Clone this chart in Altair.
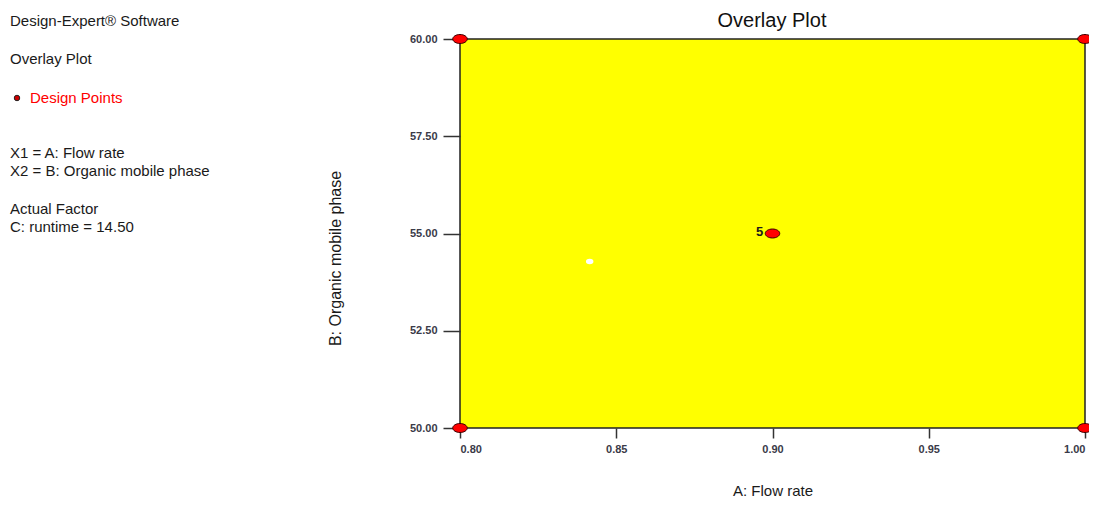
import altair as alt
import pandas as pd

# Design points (A: Flow rate, B: Organic mobile phase)
flow_rate = [0.80, 0.80, 1.00, 1.00, 0.90]
organic = [50.0, 60.0, 50.0, 60.0, 55.0]
point_labels = ["", "", "", "", "5"]

# small white artefact in the overlay region
speck_x = [0.8415]
speck_y = [54.28]

x_ticks = [0.80, 0.85, 0.90, 0.95, 1.00]
y_ticks = [50.00, 52.50, 55.00, 57.50, 60.00]

chart_title = "Overlay Plot"

info_lines = [
    "Design-Expert® Software",
    "Overlay Plot",
    "Design Points",
    "X1 = A: Flow rate",
    "X2 = B: Organic mobile phase",
    "Actual Factor",
    "C: runtime = 14.50",
]
info_y = [-18, 20, 59, 114, 132, 170, 188]

FONT = "Liberation Sans"

pts = pd.DataFrame({"A": flow_rate, "B": organic, "lab": point_labels})
speck = pd.DataFrame({"A": speck_x, "B": speck_y})

xs = alt.Scale(domain=[0.8, 1.0], nice=False, zero=False)
ys = alt.Scale(domain=[50, 60], nice=False, zero=False)

x_enc = alt.X("A:Q", scale=xs, title="A: Flow rate",
              axis=alt.Axis(values=x_ticks, format=".2f", tickSize=10, labelPadding=5,
                            titlePadding=29, titleFontSize=15, grid=False))
y_enc = alt.Y("B:Q", scale=ys, title="B: Organic mobile phase",
              axis=alt.Axis(values=y_ticks, format=".2f", tickSize=17, labelPadding=6,
                            grid=False, titleAngle=-90, titleX=-125, titleY=219,
                            titleFontSize=16, titleAlign="center", titleBaseline="middle"))

ellipse = "M -1 0 A 1 0.62 0 1 0 1 0 A 1 0.62 0 1 0 -1 0 Z"

points = alt.Chart(pts).mark_point(
    shape=ellipse, filled=True, fill="#ff0000", stroke="#3a0000", strokeWidth=1,
    size=210, opacity=1
).encode(x=x_enc, y=y_enc)

labels = alt.Chart(pts).mark_text(
    font=FONT, fontSize=13, fontWeight="bold", color="#1a1a1a", dx=-13, dy=-2,
    align="center", baseline="middle"
).encode(x=alt.X("A:Q", scale=xs), y=alt.Y("B:Q", scale=ys), text="lab:N")

speck_layer = alt.Chart(speck).mark_point(
    shape=ellipse, filled=True, fill="white", stroke="white", size=30, opacity=1
).encode(x=alt.X("A:Q", scale=xs), y=alt.Y("B:Q", scale=ys))

title_layer = alt.Chart(pd.DataFrame({"t": [chart_title]})).mark_text(
    font=FONT, fontSize=20, align="center", baseline="middle", color="#111111"
).encode(x=alt.value(312), y=alt.value(-18), text="t:N")

layers = [points, labels, speck_layer, title_layer]

for line, yy in zip(info_lines, info_y):
    is_dp = line == "Design Points"
    layers.append(
        alt.Chart(pd.DataFrame({"t": [line]})).mark_text(
            font=FONT, fontSize=15, align="left", baseline="middle",
            color="#ff0000" if is_dp else "#1a1a1a"
        ).encode(x=alt.value(-430 if is_dp else -450), y=alt.value(yy), text="t:N")
    )

# legend dot for Design Points
layers.append(
    alt.Chart(pd.DataFrame({"t": ["dot"]})).mark_point(
        shape="circle", filled=True, fill="#cc0000", stroke="#222222", strokeWidth=1,
        size=30, opacity=1
    ).encode(x=alt.value(-443), y=alt.value(59))
)

chart = alt.layer(*layers).properties(
    width=625, height=389,
    autosize=alt.AutoSizeParams(type="none"),
    padding={"left": 452, "top": 31, "right": 4, "bottom": 70},
).configure_view(
    fill="#ffff00", stroke="#222222", strokeWidth=1.5
).configure_axis(
    domain=False, tickColor="#333333", tickWidth=1.5,
    labelFont=FONT, labelFontSize=11, labelFontWeight="bold", labelColor="#3a3a48",
    titleFont=FONT, titleFontSize=14, titleFontWeight="normal", titleColor="#1a1a1a"
)

chart.save("out.html", embed_options={"renderer": "svg", "actions": False})
